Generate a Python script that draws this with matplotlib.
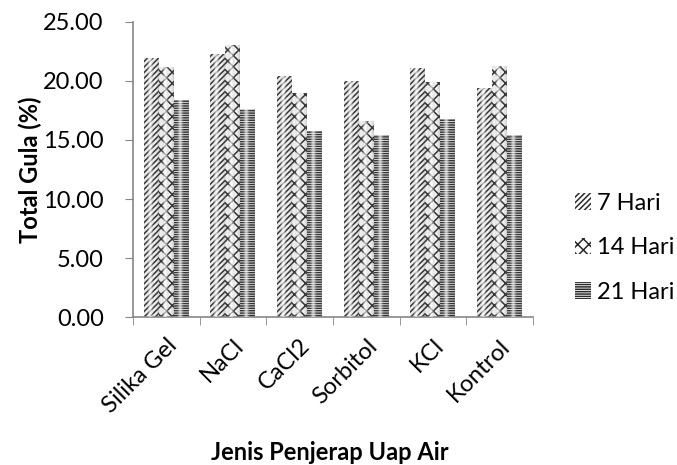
import numpy as np
import matplotlib
matplotlib.use("Agg")
import matplotlib.pyplot as plt

categories = ["Silika Gel", "NaCl", "CaCl2", "Sorbitol", "KCl", "Kontrol"]
series = ["7 Hari", "14 Hari", "21 Hari"]
hari7 = [21.9, 22.3, 20.4, 20.0, 21.1, 19.4]
hari14 = [21.2, 23.0, 19.0, 16.6, 19.9, 21.3]
hari21 = [18.4, 17.6, 15.8, 15.4, 16.8, 15.4]
yticks = [0, 5, 10, 15, 20, 25]

plt.rcParams['font.family'] = ['Lato', 'DejaVu Sans']
plt.rcParams['hatch.linewidth'] = 1.1

fig = plt.figure(figsize=(6.77, 4.65), dpi=100)
ax = fig.add_axes([0.1965, 0.318, 0.5905, 0.635])

x = np.arange(len(categories))
w = 0.225
hatches = ['//////', 'xxx', '-------']
allvals = [hari7, hari14, hari21]

# cylinder look: light in the middle, a bit darker at the sides
g = np.linspace(0, 1, 64)
hi = np.exp(-((g - 0.42) / 0.2) ** 2)
dark = np.clip(np.abs(g - 0.45) / 0.55, 0, 1) ** 2
shade = np.zeros((1, 64, 4))
shade[0, :, :3] = (0.45 + 0.55 * hi)[:, None]
shade[0, :, 3] = np.maximum(0.7 * hi, 0.35 * dark)

for i, vals in enumerate(allvals):
    bars = ax.bar(x + (i - 1) * w, vals, w, color='white', edgecolor='#2a2a2a',
                  hatch=hatches[i], linewidth=0, label=series[i], zorder=2)
    for b in bars:
        bx, by = b.get_x(), b.get_y()
        im = ax.imshow(shade, extent=[bx, bx + b.get_width(), by, by + b.get_height()],
                       aspect='auto', zorder=3, interpolation='bilinear')
        im.set_clip_path(b)

ax.set_xlim(-0.5, len(categories) - 0.5)
ax.set_ylim(0, 25)
ax.set_yticks(yticks)
ax.set_yticklabels(['%.2f' % v for v in yticks])
ax.set_xticks(x)
ax.set_xticklabels(categories, rotation=45, ha='right', rotation_mode='anchor')
ax.set_xticks(np.arange(len(categories) + 1) - 0.5, minor=True)
ax.tick_params(axis='x', which='major', length=0, pad=13, labelsize=17)
ax.tick_params(axis='x', which='minor', length=6, color='#868686', direction='out')
ax.tick_params(axis='y', length=6, color='#868686', labelsize=17, pad=15)

for s in ['top', 'right']:
    ax.spines[s].set_visible(False)
for s in ['left', 'bottom']:
    ax.spines[s].set_color('#868686')
    ax.spines[s].set_linewidth(1.2)

ax.set_ylabel('Total Gula (%)', fontsize=17, fontweight='bold', labelpad=1)
fig.text(0.487, 0.002, 'Jenis Penjerap Uap Air', fontsize=17, fontweight='bold',
         ha='center', va='bottom')

leg = ax.legend(loc='center left', bbox_to_anchor=(1.105, 0.235), frameon=False,
                fontsize=17, handlelength=0.7, handleheight=0.7,
                handletextpad=0.25, labelspacing=1.0, borderpad=0, borderaxespad=0)

fig.savefig('out.png', dpi=100)
